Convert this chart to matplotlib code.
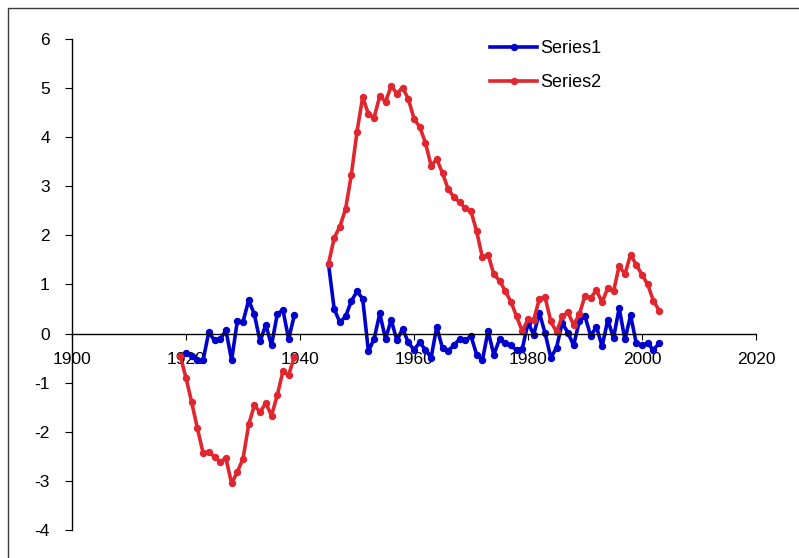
import numpy as np
import matplotlib
matplotlib.use('Agg')
import matplotlib.pyplot as plt
from matplotlib.patches import Rectangle

plt.rcParams['font.family'] = ['Liberation Sans', 'DejaVu Sans']
plt.rcParams['axes.unicode_minus'] = False

# Series1: two runs of yearly values with a gap 1940-1944
s1_years_a = list(range(1920, 1940))
s1_vals_a = [-0.39, -0.46, -0.54, -0.54, 0.03, -0.14, -0.12, 0.07, -0.54, 0.25,
             0.24, 0.68, 0.39, -0.16, 0.18, -0.24, 0.39, 0.49, -0.11, 0.37]
s1_years_b = list(range(1945, 2004))
s1_vals_b = [1.42, 0.50, 0.23, 0.35, 0.66, 0.86, 0.71, -0.36, -0.11, 0.41,
             -0.11, 0.28, -0.14, 0.10, -0.18, -0.33, -0.18, -0.33, -0.49, 0.14,
             -0.30, -0.35, -0.24, -0.11, -0.14, -0.05, -0.43, -0.54, 0.05, -0.43,
             -0.12, -0.20, -0.24, -0.34, -0.31, 0.22, -0.02, 0.42, 0.01, -0.49,
             -0.29, 0.22, 0.02, -0.24, 0.25, 0.35, -0.05, 0.14, -0.26, 0.28,
             -0.09, 0.52, -0.12, 0.37, -0.20, -0.24, -0.20, -0.33, -0.20]

# Series2
s2_years_a = list(range(1919, 1940))
s2_vals_a = [-0.46, -0.90, -1.40, -1.93, -2.43, -2.41, -2.51, -2.61, -2.54, -3.05,
             -2.82, -2.55, -1.85, -1.46, -1.60, -1.41, -1.67, -1.26, -0.77, -0.85,
             -0.47]
s2_years_b = list(range(1945, 2004))
s2_vals_b = [1.42, 1.95, 2.18, 2.54, 3.23, 4.11, 4.82, 4.47, 4.40, 4.84,
             4.72, 5.04, 4.89, 5.01, 4.78, 4.38, 4.21, 3.89, 3.42, 3.55,
             3.27, 2.94, 2.78, 2.68, 2.55, 2.49, 2.08, 1.55, 1.61, 1.21,
             1.08, 0.87, 0.65, 0.35, 0.05, 0.29, 0.28, 0.71, 0.74, 0.25,
             0.03, 0.35, 0.43, 0.18, 0.39, 0.77, 0.73, 0.88, 0.64, 0.93,
             0.86, 1.38, 1.21, 1.61, 1.40, 1.20, 1.00, 0.67, 0.47]

x1 = s1_years_a + [np.nan] + s1_years_b
y1 = s1_vals_a + [np.nan] + s1_vals_b
x2 = s2_years_a + [np.nan] + s2_years_b
y2 = s2_vals_a + [np.nan] + s2_vals_b

fig = plt.figure(figsize=(7.99, 5.58), dpi=100)
ax = fig.add_axes([72/799, 1 - 530/558, (756 - 72)/799, (530 - 39)/558])

ax.plot(x1, y1, color='#0000cc', lw=2.6, marker='o', ms=4.3, label='Series1')
ax.plot(x2, y2, color='#e0262f', lw=2.6, marker='o', ms=4.3, label='Series2')

ax.set_xlim(1900, 2020)
ax.set_ylim(-4, 6)
ax.set_xticks(range(1900, 2021, 20))
ax.set_yticks(range(-4, 7))

ax.spines['top'].set_visible(False)
ax.spines['right'].set_visible(False)
ax.spines['bottom'].set_position(('data', 0))
ax.spines['left'].set_linewidth(1)
ax.spines['bottom'].set_linewidth(1)
ax.tick_params(axis='y', direction='out', length=5, pad=11, labelsize=12.5)
ax.tick_params(axis='x', direction='out', length=4, pad=9, labelsize=12.5)

ax.legend(loc='upper left', bbox_to_anchor=(481/799, 1 - 31/558),
          bbox_transform=fig.transFigure, frameon=False, fontsize=13,
          handlelength=2.6, handletextpad=0.2, labelspacing=0.95, borderpad=0)

# chart frame (only top and left edges fall inside the picture)
fig.add_artist(Rectangle((8/799, -0.1), 1.2, 1.1 - 8/558, transform=fig.transFigure,
                         fill=False, edgecolor='#3a3a3a', lw=1))

plt.savefig('out.png', dpi=100)
